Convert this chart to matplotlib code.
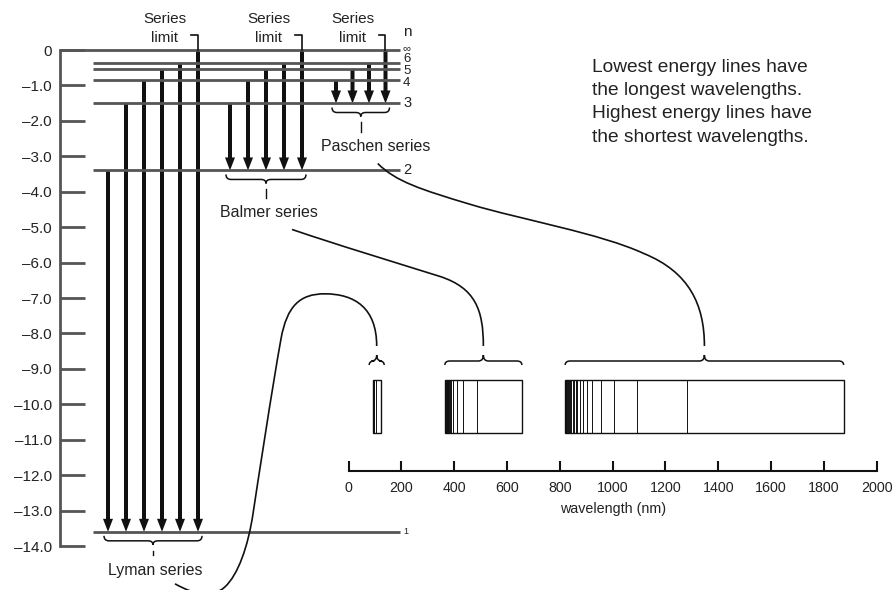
import matplotlib.pyplot as plt
from matplotlib.path import Path
from matplotlib.patches import PathPatch, Rectangle

plt.rcParams['font.family'] = ['Liberation Sans', 'DejaVu Sans']

# hydrogen energy levels (eV), ground state first
level_names = ['1', '2', '3', '4', '5', '6', '∞']
level_energies = [-13.6, -3.4, -1.51, -0.85, -0.54, -0.38, 0.0]

energy_ticks = [0, -1, -2, -3, -4, -5, -6, -7, -8, -9, -10, -11, -12, -13, -14]
energy_tick_labels = ['0', '–1.0', '–2.0', '–3.0', '–4.0', '–5.0', '–6.0', '–7.0',
                      '–8.0', '–9.0', '–10.0', '–11.0', '–12.0', '–13.0', '–14.0']

series_names = ['Lyman series', 'Balmer series', 'Paschen series']
series_final_level = [0, 1, 2]

# emission lines (nm), series limit first
lyman_nm = [91.2, 91.4, 91.6, 91.9, 92.1, 92.3, 92.6, 93.1, 93.8, 95.0, 97.3, 102.6, 121.6]
balmer_nm = [364.6, 366.2, 366.9, 367.7, 368.3, 369.2, 370.4, 371.2, 372.2, 373.4, 375.0,
             377.1, 379.8, 383.5, 388.9, 397.0, 410.2, 434.0, 486.1, 656.3]
paschen_nm = [820.4, 822.5, 825.0, 828.7, 831.5, 835.9, 839.3, 843.8, 850.3, 854.5, 859.8,
              866.5, 875.0, 886.3, 901.5, 922.9, 954.6, 1004.9, 1093.8, 1281.8, 1875.1]
series_lines = [lyman_nm, balmer_nm, paschen_nm]

wl_ticks = [0, 200, 400, 600, 800, 1000, 1200, 1400, 1600, 1800, 2000]

note_lines = ['Lowest energy lines have', 'the longest wavelengths.',
              'Highest energy lines have', 'the shortest wavelengths.']

# ---- layout (pixels, origin top-left) ----
W, H = 895, 590
E_BOX = (60, 50, 410, 546)       # energy axis: left, top, right, bottom
S_BOX = (348.6, 380, 876.6, 471)  # spectrum axis
PX_PER_EV = (E_BOX[3] - E_BOX[1]) / 14.0
INK = '#111111'
TXT = '#222222'
GREY = '#555555'


def frac(l, t, r, b):
    return [l / W, 1 - b / H, (r - l) / W, (b - t) / H]


def ey(e):
    return E_BOX[1] - e * PX_PER_EV


def wx(nm):
    return S_BOX[0] + nm * (S_BOX[2] - S_BOX[0]) / 2000.0


fig = plt.figure(figsize=(W / 100, H / 100), dpi=100)

# energy level diagram (x in pixels, y in eV)
ax = fig.add_axes(frac(*E_BOX))
ax.set_xlim(E_BOX[0], E_BOX[2])
ax.set_ylim(-14, 0)
for side in ['top', 'right', 'bottom']:
    ax.spines[side].set_visible(False)
ax.spines['left'].set_color(GREY)
ax.spines['left'].set_linewidth(2)
ax.spines['left'].set_bounds(-14, 0)
ax.set_xticks([])
ax.set_yticks(energy_ticks)
ax.set_yticklabels(energy_tick_labels)
ax.tick_params(axis='y', direction='in', length=18, width=2, color=GREY,
               pad=6, labelsize=11, labelcolor=TXT)
ax.patch.set_visible(False)

for name, e in zip(level_names, level_energies):
    x_start = E_BOX[0] if name == '∞' else 93
    ax.plot([x_start, 400], [e, e], color=GREY, lw=2, solid_capstyle='butt', clip_on=False)

arrow_x0 = [108, 230, 336]
arrow_step = [18, 18, 16.5]
arrow_xs = []
for s, f in enumerate(series_final_level):
    uppers = list(range(f + 1, len(level_energies)))
    xs = [arrow_x0[s] + arrow_step[s] * k for k in range(len(uppers))]
    arrow_xs.append(xs)
    for x, up in zip(xs, uppers):
        e_top, e_bot = level_energies[up], level_energies[f]
        ax.arrow(x, e_top, 0, e_bot - e_top, width=4, head_width=10,
                 head_length=13 / PX_PER_EV, length_includes_head=True,
                 fc=INK, ec='none', clip_on=False)

# spectrum strip
sx = fig.add_axes(frac(*S_BOX))
sx.set_xlim(0, 2000)
sx.set_ylim(0, 1)
for side in ['top', 'right', 'left']:
    sx.spines[side].set_visible(False)
sx.spines['bottom'].set_linewidth(1.5)
sx.spines['bottom'].set_color(INK)
sx.set_yticks([])
sx.set_xticks(wl_ticks)
sx.set_xticklabels([str(t) for t in wl_ticks])
sx.tick_params(axis='x', direction='in', length=7, width=1.5, color=INK,
               pad=7, labelsize=10.3, labelcolor=TXT)
sx.set_xlabel('wavelength (nm)', fontsize=10.3, color=TXT, labelpad=5)
sx.patch.set_visible(False)

strip_bottom = (S_BOX[3] - 433) / (S_BOX[3] - S_BOX[1])
for lines in series_lines:
    sx.vlines(lines, strip_bottom, 1, colors=INK, lw=0.7, clip_on=False)
    sx.add_patch(Rectangle((lines[0], strip_bottom), lines[-1] - lines[0], 1 - strip_bottom,
                           fill=False, ec=INK, lw=1, clip_on=False))

# overlay in pixel units for labels, braces and connectors
ov = fig.add_axes([0, 0, 1, 1])
ov.set_xlim(0, W)
ov.set_ylim(H, 0)
ov.axis('off')


def brace(x0, x1, y_end, sign, h1=5, h2=4, r=5):
    yh = y_end + sign * h1
    yt = yh + sign * h2
    xm = (x0 + x1) / 2
    verts = [(x0, y_end), (x0, yh), (x0 + r, yh), (xm - r, yh), (xm, yh), (xm, yt),
             (xm, yh), (xm + r, yh), (x1 - r, yh), (x1, yh), (x1, y_end)]
    codes = [Path.MOVETO, Path.CURVE3, Path.CURVE3, Path.LINETO, Path.CURVE3, Path.CURVE3,
             Path.CURVE3, Path.CURVE3, Path.LINETO, Path.CURVE3, Path.CURVE3]
    ov.add_patch(PathPatch(Path(verts, codes), fill=False, ec=INK, lw=1.1))
    return xm, yt


def curve(verts):
    codes = [Path.MOVETO] + [Path.CURVE4] * (len(verts) - 1)
    ov.add_patch(PathPatch(Path(verts, codes), fill=False, ec=INK, lw=1.2))


# level labels
label_nudge = {'6': -4, '5': 2, '4': 3, '∞': -2}
label_size = {'1': 6.5, '∞': 8, '6': 9.5, '5': 9.5, '4': 9.5}
for name, e in zip(level_names, level_energies):
    ov.text(403, ey(e) + label_nudge.get(name, 0), name, ha='left', va='center',
            fontsize=label_size.get(name, 10.5), color=TXT)
ov.text(403, 32, 'n', ha='left', va='center', fontsize=11, color=TXT)

# series limit call-outs
for xs in arrow_xs:
    x_lim = xs[-1]
    ov.text(x_lim - 33, ey(0) - 31, 'Series', ha='center', va='center', fontsize=11, color=TXT)
    ov.text(x_lim - 33, ey(0) - 12.5, 'limit', ha='center', va='center', fontsize=11, color=TXT)
    ov.plot([x_lim - 6.5, x_lim, x_lim], [ey(0) - 15, ey(0) - 15, ey(0)], color=INK, lw=1.2)

# braces under each group of arrows, with series names
dash_len = [4, 9, 10]
label_dx = [2, 3, 15]
label_dy = [26, 29, 30]
label_anchor = []
for s, f in enumerate(series_final_level):
    xs = arrow_xs[s]
    xm, yt = brace(xs[0] - 4, xs[-1] + 4, ey(level_energies[f]) + 4, +1)
    ov.plot([xm, xm], [yt + 6, yt + 6 + dash_len[s]], color=INK, lw=1)
    lx, ly = xm + label_dx[s], yt + label_dy[s]
    ov.text(lx, ly, series_names[s], ha='center', va='center', fontsize=11.5, color=TXT)
    label_anchor.append((lx, ly))

# braces over each band of the spectrum
band_tip = []
for lines in series_lines:
    x0, x1 = wx(lines[0]), wx(lines[-1])
    pad = max(0, (15 - (x1 - x0)) / 2)
    band_tip.append(brace(x0 - pad, x1 + pad, 365, -1, h1=4, h2=6))

# connectors from series names to spectrum bands
(lx, ly), (bx, by) = label_anchor[0], band_tip[0]
curve([(lx + 20, ly + 13), (lx + 40, ly + 24), (lx + 57, ly + 28), (lx + 70, ly + 16),
       (lx + 83, ly + 4), (lx + 93, ly - 24), (lx + 98, ly - 57),
       (lx + 103, ly - 90), (lx + 117, ly - 182), (lx + 126, ly - 232),
       (lx + 132, ly - 265), (lx + 145, ly - 277), (bx - 52, ly - 277),
       (bx - 22, ly - 277), (bx, by - 47), (bx, by - 9)])

(lx, ly), (bx, by) = label_anchor[1], band_tip[1]
curve([(lx + 23, ly + 17), (lx + 70, ly + 33), (lx + 120, ly + 48), (lx + 171, ly + 64),
       (bx - 8, by - 67), (bx, by - 45), (bx, by - 9)])

(lx, ly), (bx, by) = label_anchor[2], band_tip[2]
curve([(lx + 2, ly + 17), (lx + 20, ly + 35), (lx + 45, ly + 43), (lx + 95, ly + 58),
       (lx + 145, ly + 73), (lx + 225, ly + 87), (lx + 268, ly + 107),
       (bx - 15, by - 83), (bx, by - 50), (bx, by - 9)])

# explanatory note
for i, txt in enumerate(note_lines):
    ov.text(592, 67 + 23.5 * i, txt, ha='left', va='center', fontsize=13.8, color=TXT)

fig.savefig('out.png', dpi=100)
